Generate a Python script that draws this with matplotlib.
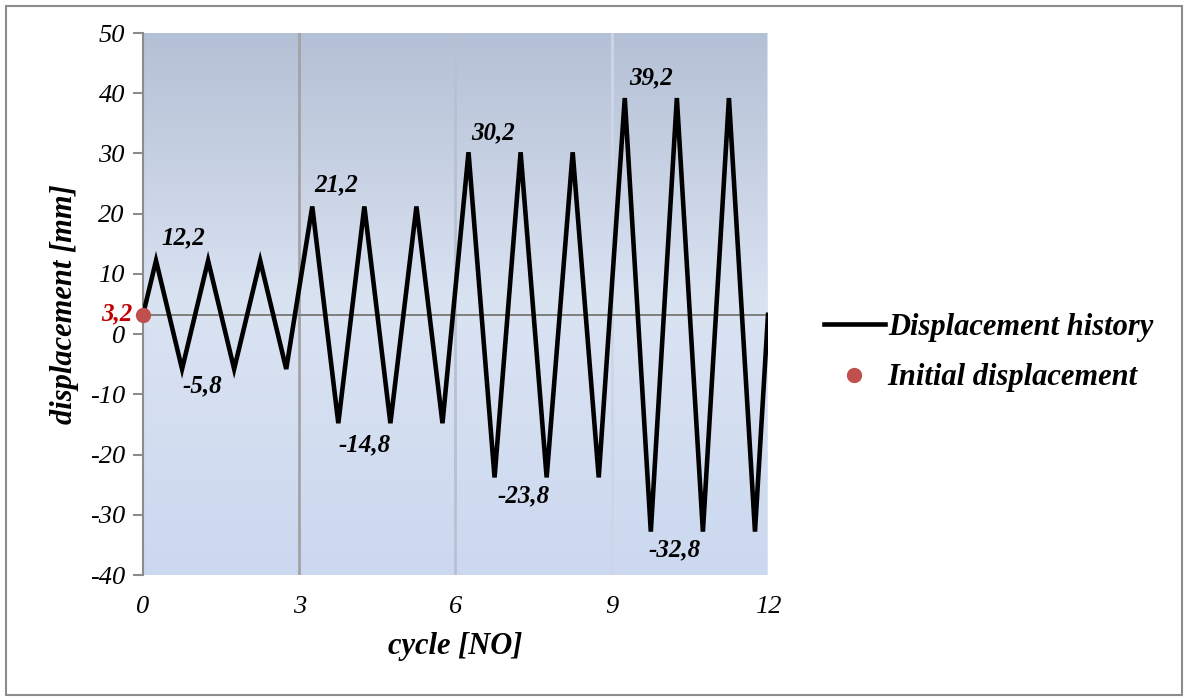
import numpy as np
import matplotlib
matplotlib.use("Agg")
import matplotlib.pyplot as plt
from matplotlib.patches import Rectangle

# displacement history: one point every quarter cycle at the peaks
cycles = [0, 0.25, 0.75, 1.25, 1.75, 2.25, 2.75,
          3.25, 3.75, 4.25, 4.75, 5.25, 5.75,
          6.25, 6.75, 7.25, 7.75, 8.25, 8.75,
          9.25, 9.75, 10.25, 10.75, 11.25, 11.75, 12]
displacement = [3.2, 12.2, -5.8, 12.2, -5.8, 12.2, -5.8,
                21.2, -14.8, 21.2, -14.8, 21.2, -14.8,
                30.2, -23.8, 30.2, -23.8, 30.2, -23.8,
                39.2, -32.8, 39.2, -32.8, 39.2, -32.8, 3.2]

init_x = [0]
init_y = [3.2]

# peak labels: (text, x, y) in data coords
peak_labels = [("12,2", 0.78, 16.0), ("-5,8", 1.14, -8.6),
               ("21,2", 3.7, 24.8), ("-14,8", 4.25, -18.3),
               ("30,2", 6.72, 33.5), ("-23,8", 7.3, -26.8),
               ("39,2", 9.75, 42.6), ("-32,8", 10.2, -35.8)]

yticks = [50, 40, 30, 20, 10, 0, -10, -20, -30, -40]
xticks = [0, 3, 6, 9, 12]

plt.rcParams['font.family'] = ['Liberation Serif', 'DejaVu Serif']
plt.rcParams['axes.unicode_minus'] = False

fig = plt.figure(figsize=(11.88, 7.0), dpi=100)
ax = fig.add_axes([143 / 1188, 1 - 575 / 700, 625 / 1188, 542 / 700])

# gradient background of the plot area
cmap = matplotlib.colors.LinearSegmentedColormap.from_list(
    "bg", [(0, "#b4c0d5"), (0.5, "#dae3f2"), (1, "#cbd8ef")])
ax.imshow(np.linspace(0, 1, 256).reshape(-1, 1), cmap=cmap, aspect="auto",
          extent=[0, 12, -40, 50], origin="upper", zorder=0)

grid_colors = {3: "#a3a3a6", 6: "#b8c1d2", 9: "#cdd6e8", 12: "#dfe6f2"}
for gx, gc in grid_colors.items():
    ax.axvline(gx, color=gc, lw=2, zorder=1)
ax.axhline(3.2, color="#7f7f7f", lw=1.4, zorder=1)

ax.plot(cycles, displacement, color="black", lw=3.3, solid_joinstyle="miter",
        label="Displacement history", zorder=3)
ax.plot(init_x, init_y, "o", color="#c0504d", ms=10, clip_on=False,
        label="Initial displacement", zorder=4)

for txt, tx, ty in peak_labels:
    ax.text(tx, ty, txt, fontsize=18, fontweight="bold", style="italic",
            ha="center", va="center", zorder=5)
ax.text(-0.5, 3.4, "3,2", fontsize=18, fontweight="bold", style="italic",
        color="#c00000", ha="center", va="center", clip_on=False)

ax.set_xlim(0, 12)
ax.set_ylim(-40, 50)
ax.set_xticks(xticks)
ax.set_yticks(yticks)
ax.tick_params(axis="x", length=0, pad=15, labelsize=19)
ax.tick_params(axis="y", length=7, width=1.5, color="#8c8c8c", pad=6, labelsize=19)
for lab in ax.get_xticklabels() + ax.get_yticklabels():
    lab.set_style("italic")

for side in ["top", "right", "bottom"]:
    ax.spines[side].set_visible(False)
ax.spines["left"].set_color("#8c8c8c")
ax.spines["left"].set_linewidth(1.5)

ax.set_xlabel("cycle [NO]", fontsize=22, fontweight="bold", style="italic", labelpad=10)
ax.set_ylabel("displacement [mm]", fontsize=22, fontweight="bold", style="italic", labelpad=8)

leg = ax.legend(loc="center left", bbox_to_anchor=(1.045, 0.41), frameon=False,
                prop={"size": 22, "weight": "bold", "style": "italic"},
                handlelength=2.0, handletextpad=0.1, labelspacing=0.7)

# outer border of the chart
fig.patches.append(Rectangle((6 / 1188, 5 / 700), 1176 / 1188, 689 / 700,
                             transform=fig.transFigure, fill=False,
                             edgecolor="#8c8c8c", lw=1.5))

fig.savefig("out.png", dpi=100)
